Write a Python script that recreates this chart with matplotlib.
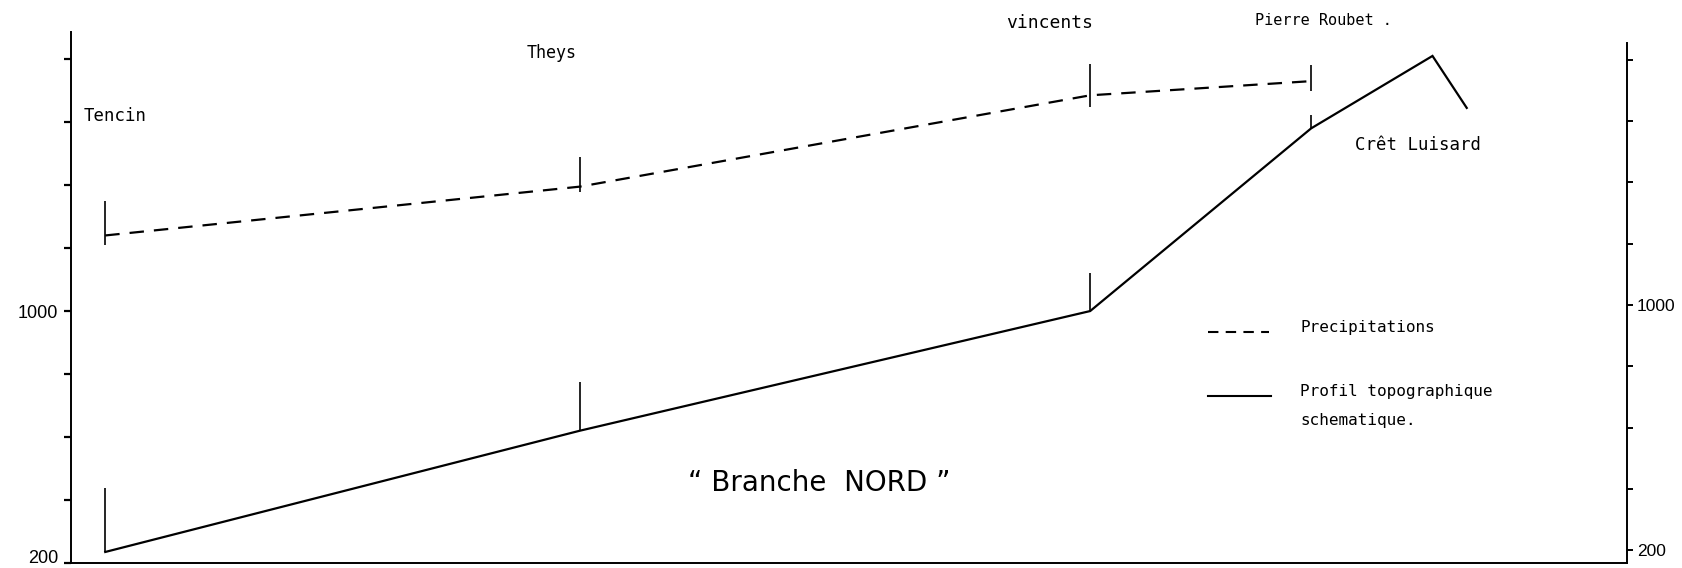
import matplotlib.pyplot as plt

# stations along the "Branche NORD" transect (x in arbitrary distance units)
stations = ["Tencin", "Theys", "vincents", "Pierre Roubet ."]
station_x = [2.2, 32.7, 65.5, 79.7]
precip = [1240, 1395, 1685, 1730]

# schematic topographic profile, ends past the last station up to Crêt Luisard
profile_x = [2.2, 32.7, 65.5, 79.7, 87.5, 89.7]
profile_alt = [235, 620, 1000, 1580, 1810, 1645]

# little vertical strokes marking each station on both curves
precip_mark_top = [1350, 1490, 1785, 1780]
precip_mark_bottom = [1210, 1378, 1648, 1698]
profile_mark_top = [438, 775, 1121, 1622]

y_ticks = [200, 400, 600, 800, 1000, 1200, 1400, 1600, 1800]
y_tick_labels = ["200", "", "", "", "1000", "", "", "", ""]

W, H = 1683, 568
fig = plt.figure(figsize=(W / 100, H / 100), dpi=100)
ax = fig.add_axes([71 / W, 5 / H, (1627 - 71) / W, (563 - 32) / H])

ax.set_xlim(0, 100)
ax.set_ylim(200, 1886)

ax.plot(station_x, precip, color="k", lw=1.6, dashes=(6.5, 4.5))
ax.plot(profile_x, profile_alt, color="k", lw=1.6, solid_joinstyle="miter")
ax.vlines(station_x, precip_mark_bottom, precip_mark_top, color="k", lw=1.2)
ax.vlines(station_x, profile_alt[:4], profile_mark_top, color="k", lw=1.2)

# axes: left scale, bottom line, separate right scale
for s in ["top", "right"]:
    ax.spines[s].set_visible(False)
ax.spines["left"].set_linewidth(1.4)
ax.spines["bottom"].set_linewidth(1.4)
ax.set_xticks([])
ax.set_yticks(y_ticks)
ax.set_yticklabels(y_tick_labels, fontfamily="Liberation Sans", fontsize=13)
ax.tick_params(axis="y", direction="out", length=5, width=1.6, pad=4)
ax.get_yticklabels()[0].set_va("baseline")

ax2 = ax.twinx()
ax2.set_ylim(157.6, 1891.4)
for s in ["top", "left", "bottom"]:
    ax2.spines[s].set_visible(False)
ax2.spines["right"].set_linewidth(1.4)
ax2.spines["right"].set_bounds(157.6, 1855)
ax2.set_yticks(y_ticks)
ax2.set_yticklabels(y_tick_labels, fontfamily="Liberation Sans", fontsize=12.5)
ax2.tick_params(axis="y", direction="out", length=4, width=1.4, pad=3)

mono = "DejaVu Sans Mono"
ax.text(0.8, 1619, stations[0], fontfamily=mono, fontsize=12.5,
        va="center", ha="left")
ax.text(29.3, 1819, stations[1], fontfamily=mono, fontsize=12,
        va="center", ha="left")
ax.text(60.1, 1914, stations[2], fontfamily=mono, fontsize=13,
        va="center", ha="left", clip_on=False)
ax.text(76.1, 1924, stations[3], fontfamily=mono, fontsize=11,
        va="center", ha="left", clip_on=False)
ax.text(82.5, 1527, "Crêt Luisard", fontfamily=mono, fontsize=12.5,
        va="center", ha="left")

# hand-drawn legend
ax.plot([73.1, 77.0], [933, 933], color="k", lw=1.5, dashes=(5, 3.5))
ax.plot([73.1, 77.1], [730, 730], color="k", lw=1.5)
ax.text(79.0, 949, "Precipitations", fontfamily=mono,
        fontsize=11.5, va="center", ha="left")
ax.text(79.0, 743, "Profil topographique", fontfamily=mono,
        fontsize=11.5, va="center", ha="left")
ax.text(79.0, 654, "schematique.", fontfamily=mono,
        fontsize=11.5, va="center", ha="left")

ax.text(48.1, 454, "\u201c Branche  NORD \u201d", fontfamily="DejaVu Sans",
        fontsize=20, va="center", ha="center")

fig.savefig("out.png", dpi=100)
